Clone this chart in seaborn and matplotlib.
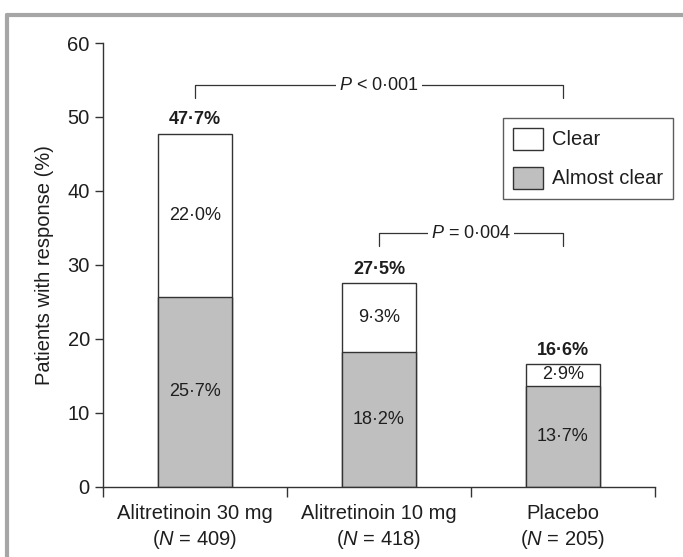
import matplotlib
matplotlib.use("Agg")
import matplotlib.pyplot as plt
from matplotlib.patches import Patch
from matplotlib.lines import Line2D
import pandas as pd
import seaborn as sns

# data
groups = ["Alitretinoin 30 mg", "Alitretinoin 10 mg", "Placebo"]
n_patients = [409, 418, 205]
almost_clear = [25.7, 18.2, 13.7]
clear = [22.0, 9.3, 2.9]
totals = [47.7, 27.5, 16.6]

# comparisons: (group a, group b, label)
comparisons = [(0, 2, "$P$ < 0·001"), (1, 2, "$P$ = 0·004")]

sns.set_theme(style="white")
plt.rcParams["font.family"] = ["Liberation Sans", "DejaVu Sans"]
plt.rcParams["mathtext.fontset"] = "custom"
plt.rcParams["mathtext.it"] = "Liberation Sans:italic"
plt.rcParams["mathtext.rm"] = "Liberation Sans"

dark = "#333333"
grey = "#bfbfbf"
txt_col = "#1e1e1e"

labels = [f"{g}\n($N$ = {n})" for g, n in zip(groups, n_patients)]
df = pd.DataFrame({"group": labels, "almost": almost_clear, "clear": clear, "total": totals})

fig = plt.figure(figsize=(6.83, 5.57), dpi=100)
ax = fig.add_axes([0.1508, 0.1257, 0.8082, 0.7971])

# stacked bars: total drawn white (clear part), almost clear drawn on top in grey
sns.barplot(data=df, x="group", y="total", color="white", edgecolor=dark,
            linewidth=1, width=0.4, saturation=1, ax=ax)
sns.barplot(data=df, x="group", y="almost", color=grey, edgecolor=dark,
            linewidth=1, width=0.4, saturation=1, ax=ax)

def fmt(v):
    return f"{v:.1f}%".replace(".", "·")

for i in range(len(groups)):
    ax.text(i, almost_clear[i] / 2, fmt(almost_clear[i]), ha="center", va="center",
            fontsize=13, color=txt_col)
    ax.text(i, almost_clear[i] + clear[i] / 2, fmt(clear[i]), ha="center", va="center",
            fontsize=13, color=txt_col)
    ax.annotate(fmt(totals[i]), (i, totals[i]), xytext=(0, 4), textcoords="offset points",
                ha="center", va="bottom", fontsize=13, fontweight="bold", color=txt_col)

# significance brackets
bracket_y = [54.3, 34.3]
for (a, b, txt), y in zip(comparisons, bracket_y):
    ax.plot([a, a, b, b], [y - 1.8, y, y, y - 1.8], color=dark, lw=0.9)
    ax.text((a + b) / 2, y, txt, ha="center", va="center", fontsize=13, color=txt_col,
            bbox=dict(facecolor="white", edgecolor="none", pad=2))

ax.set_xlim(-0.5, 2.5)
ax.set_ylim(0, 60)
ax.set_yticks(range(0, 61, 10))
ax.set_xticks([-0.5, 0.5, 1.5, 2.5], minor=True)
ax.set_xticks(range(3))
ax.set_xticklabels(labels, linespacing=1.3)
ax.tick_params(axis="x", which="major", length=0, pad=12, labelsize=14.5, labelcolor=txt_col)
ax.tick_params(axis="x", which="minor", length=7, width=1, color=dark, direction="out", bottom=True)
ax.tick_params(axis="y", length=6, width=1, color=dark, direction="out", left=True,
               labelsize=14.5, labelcolor=txt_col)
ax.set_xlabel("")
ax.set_ylabel("Patients with response (%)", fontsize=14.5, color=txt_col, labelpad=10)
sns.despine(ax=ax)
for s in ["left", "bottom"]:
    ax.spines[s].set_color(dark)
    ax.spines[s].set_linewidth(1)

handles = [Patch(facecolor="white", edgecolor=dark, label="Clear"),
           Patch(facecolor=grey, edgecolor=dark, label="Almost clear")]
leg = ax.legend(handles=handles, loc="upper left", bbox_to_anchor=(0.725, 0.832),
                fontsize=14.5, frameon=True, fancybox=False, handlelength=1.5,
                handleheight=1.3, handletextpad=0.4, labelspacing=0.85,
                borderpad=0.5, borderaxespad=0)
leg.get_frame().set_edgecolor(dark)
leg.get_frame().set_linewidth(1)
for t in leg.get_texts():
    t.set_color(txt_col)

# grey frame of the original figure (top and left edges)
fig.add_artist(Line2D([0.0102, 1.0], [0.9731, 0.9731], color="#a6a6a6", lw=3,
                      transform=fig.transFigure))
fig.add_artist(Line2D([0.0102, 0.0102], [0.0, 0.9731], color="#a6a6a6", lw=3,
                      transform=fig.transFigure))

fig.savefig("out.png", dpi=100)
